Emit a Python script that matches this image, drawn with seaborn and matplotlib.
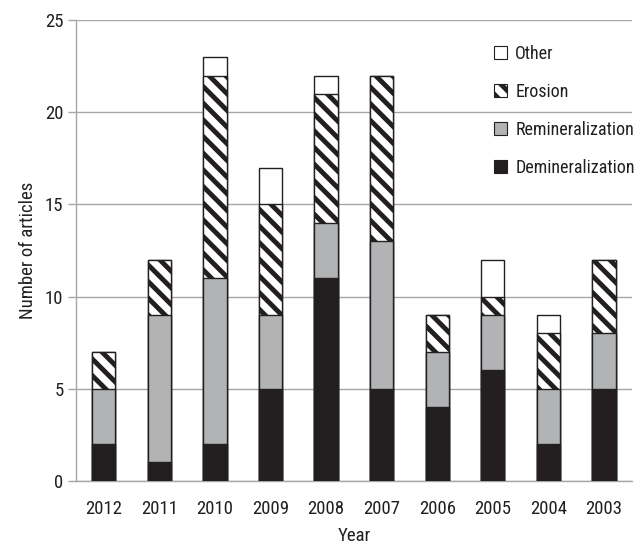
import numpy as np
import pandas as pd
import seaborn as sns
import matplotlib.pyplot as plt
from matplotlib.patches import Patch

# data
years = ["2012", "2011", "2010", "2009", "2008", "2007", "2006", "2005", "2004", "2003"]
demineralization = [2, 1, 2, 5, 11, 5, 4, 6, 2, 5]
remineralization = [3, 8, 9, 4, 3, 8, 3, 3, 3, 3]
erosion = [2, 3, 11, 6, 7, 9, 2, 1, 3, 4]
other = [0, 0, 1, 2, 1, 0, 0, 2, 1, 0]

sns.set_style("white")
plt.rcParams["font.family"] = ["Roboto Condensed", "Open Sans Condensed", "Liberation Sans", "DejaVu Sans"]
plt.rcParams["hatch.linewidth"] = 3.5
plt.rcParams["hatch.color"] = "#231f20"

df = pd.DataFrame({"Year": years, "Dem": demineralization, "Rem": remineralization,
                   "Ero": erosion, "Other": other})
# cumulative heights, drawn from tallest to shortest so each layer covers the one behind
df["c_dem"] = df["Dem"]
df["c_rem"] = df["c_dem"] + df["Rem"]
df["c_ero"] = df["c_rem"] + df["Ero"]
df["c_oth"] = df["c_ero"] + df["Other"]

fig = plt.figure(figsize=(6.44, 5.47), dpi=100)
ax = fig.add_axes([0.118, 0.121, 0.863, 0.842])

edge = "#231f20"
width = 0.42
layers = [("c_oth", "white", None), ("c_ero", "white", "\\\\"),
          ("c_rem", "#b2b3b5", None), ("c_dem", "#231f20", None)]
for col, color, hatch in layers:
    sns.barplot(data=df, x="Year", y=col, color=color, width=width,
                edgecolor=edge, linewidth=1.0, hatch=hatch, saturation=1, ax=ax, zorder=3)

ax.set_ylim(0, 25)
ax.set_xlim(-0.5, 9.5)
ax.set_yticks(np.arange(0, 26, 5))
ax.yaxis.grid(True, color="#a6a6a6", linewidth=1.0, zorder=0)
ax.set_axisbelow(True)

for s in ["top", "right"]:
    ax.spines[s].set_visible(False)
for s in ["left", "bottom"]:
    ax.spines[s].set_color("#a6a6a6")
    ax.spines[s].set_linewidth(1.0)

ax.set_xticks(np.arange(-0.5, 10, 1), minor=True)
ax.tick_params(axis="x", which="major", length=0, labelsize=13.5, pad=14, colors="#231f20")
ax.tick_params(axis="x", which="minor", length=7, width=1, color="#a6a6a6", direction="out")
ax.tick_params(axis="y", length=6, width=1, color="#a6a6a6", labelsize=13.5, labelcolor="#231f20",
               left=True, direction="out", pad=3)

ax.set_xlabel("Year", fontsize=13.5, color="#231f20", labelpad=6)
ax.set_ylabel("Number of articles", fontsize=13.5, color="#231f20", labelpad=6)

handles = [Patch(facecolor="white", edgecolor=edge, linewidth=0.8, label="Other"),
           Patch(facecolor="white", edgecolor=edge, linewidth=0.8, hatch="\\\\", label="Erosion"),
           Patch(facecolor="#b2b3b5", edgecolor=edge, linewidth=0.8, label="Remineralization"),
           Patch(facecolor="#231f20", edgecolor=edge, linewidth=0.8, label="Demineralization")]
ax.legend(handles=handles, loc="upper left", bbox_to_anchor=(0.74, 0.962), frameon=False,
          fontsize=13, handlelength=0.7, handleheight=0.7, handletextpad=0.45,
          labelspacing=1.1, labelcolor="#231f20", borderaxespad=0)

fig.savefig("out.png", dpi=100)
